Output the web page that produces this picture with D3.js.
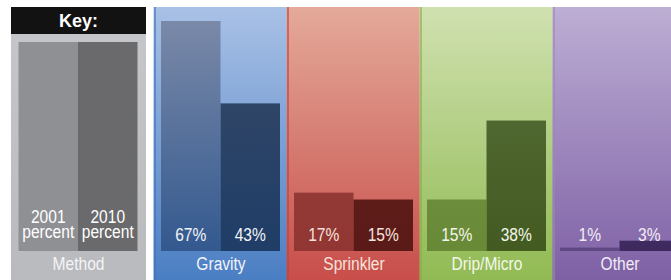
<!DOCTYPE html>
<html>
<head>
<meta charset="utf-8">
<script src="https://cdn.jsdelivr.net/npm/d3@7"></script>
<style>
  body { margin: 0; background: #fff; }
  text { font-family: "Liberation Sans", Arial, sans-serif; }
</style>
</head>
<body>
<svg id="chart"></svg>
<script>
const categories = ["Gravity", "Sprinkler", "Drip/Micro", "Other"];
const years = ["2001", "2010"];
const pct2001 = [67, 17, 15, 1];
const pct2010 = [43, 15, 38, 3];

// panel colours: [top, bottom], bar colours: [2001 top, 2001 bottom, 2010 top, 2010 bottom]
const panelColors = [
  ["#a9c1e6", "#4a7ec3"],
  ["#e4aa9a", "#c84e4a"],
  ["#d0e1b0", "#91ba53"],
  ["#bdaed4", "#7e60a5"]
];
const barColors = [
  ["#7a89a8", "#33598f", "#2f4567", "#1f3d67"],
  ["#943a36", "#913632", "#5e1c19", "#5a1a17"],
  ["#6c8d3b", "#688a37", "#4f6730", "#435b21"],
  ["#5e4982", "#5e4982", "#3f2b60", "#3d295d"]
];
const labelColor = ["#f2f4f8", "#f6e2dc", "#f4f7ea", "#f1ecf6"];
const edgeColor = ["#3f72b8", "#c0403e", "#86ad48", "#9c86c0"];

const width = 671, height = 280;
const panelTop = 7;
const narrow = 0.82; // squeeze to look like Arial Narrow

const svg = d3.select("#chart").attr("width", width).attr("height", height);
const defs = svg.append("defs");

function vGrad(id, c1, c2) {
  const g = defs.append("linearGradient").attr("id", id)
    .attr("x1", 0).attr("y1", 0).attr("x2", 0).attr("y2", 1);
  g.append("stop").attr("offset", "0%").attr("stop-color", c1);
  g.append("stop").attr("offset", "100%").attr("stop-color", c2);
}

// narrow text centred at (cx, cy)
function narrowText(sel, cx, cy, str, color) {
  return sel.append("text")
    .attr("transform", `translate(${cx},${cy}) scale(${narrow},1)`)
    .attr("text-anchor", "middle")
    .attr("fill", color)
    .style("font-size", "19px")
    .text(str);
}

const x = d3.scaleBand().domain(categories).range([153.5, 153.5 + 4 * 133]);
const xi = d3.scaleBand().domain(years).range([7.5, 126.5]);
const y = d3.scaleLinear().domain([0, 67]).range([251, 21]);

// ---- key ----
vGrad("keyPanel", "#c6c7cb", "#b9babe");
const key = svg.append("g").attr("transform", "translate(11,0)");
key.append("rect").attr("x", 0).attr("y", panelTop).attr("width", 135).attr("height", height - panelTop)
  .attr("fill", "url(#keyPanel)");
key.append("rect").attr("x", 0).attr("y", panelTop).attr("width", 135).attr("height", 27).attr("fill", "#121212");
key.append("text").attr("x", 67.5).attr("y", 27).attr("text-anchor", "middle")
  .attr("fill", "#fff").style("font-size", "18px").style("font-weight", "bold").text("Key:");
const keyFill = ["#8f9094", "#6a6a6c"];
years.forEach((yr, i) => {
  const cx = xi(yr) + xi.bandwidth() / 2;
  key.append("rect").attr("x", xi(yr)).attr("y", 42).attr("width", xi.bandwidth())
    .attr("height", 251 - 42).attr("fill", keyFill[i]);
  narrowText(key, cx, 223, yr, "#fff");
  narrowText(key, cx, 238, "percent", "#fff");
});
narrowText(key, 67.5, 270, "Method", "#f4f4f4");

// ---- panels ----
categories.forEach((c, i) => {
  vGrad("panel" + i, panelColors[i][0], panelColors[i][1]);
  vGrad("bar" + i + "a", barColors[i][0], barColors[i][1]);
  vGrad("bar" + i + "b", barColors[i][2], barColors[i][3]);
});

const panels = svg.selectAll(".panel")
  .data(categories)
  .join("g")
  .attr("class", "panel")
  .attr("transform", d => `translate(${x(d)},0)`);

panels.append("rect")
  .attr("y", panelTop).attr("width", x.bandwidth() + 0.5).attr("height", height - panelTop)
  .attr("fill", (d, i) => `url(#panel${i})`);

panels.append("rect")
  .attr("x", 0.5).attr("y", panelTop).attr("width", 2).attr("height", height - panelTop)
  .attr("fill", (d, i) => edgeColor[i]).attr("opacity", 0.6);

panels.each(function(c, i) {
  const g = d3.select(this);
  const vals = [pct2001[i], pct2010[i]];
  g.selectAll(".bar")
    .data(years.map((yr, j) => ({ yr, v: vals[j], j })))
    .join("rect")
    .attr("class", "bar")
    .attr("x", d => xi(d.yr))
    .attr("y", d => y(d.v))
    .attr("width", xi.bandwidth())
    .attr("height", d => y(0) - y(d.v))
    .attr("fill", d => `url(#bar${i}${d.j === 0 ? "a" : "b"})`);
  years.forEach((yr, j) => {
    narrowText(g, xi(yr) + xi.bandwidth() / 2, 241, vals[j] + "%", labelColor[i]);
  });
  narrowText(g, x.bandwidth() / 2 + 1, 270, c, labelColor[i]);
});
</script>
</body>
</html>
